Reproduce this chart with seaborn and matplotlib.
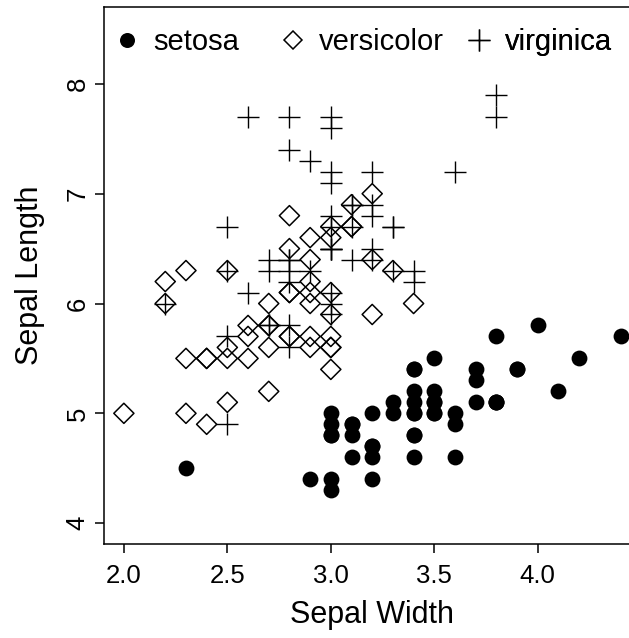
import numpy as np
import pandas as pd
import matplotlib
matplotlib.use("Agg")
import matplotlib.pyplot as plt
import seaborn as sns
from matplotlib.lines import Line2D

species = ["setosa", "versicolor", "virginica"]

setosa_length = [5.1, 4.9, 4.7, 4.6, 5.0, 5.4, 4.6, 5.0, 4.4, 4.9, 5.4, 4.8, 4.8, 4.3, 5.8, 5.7, 5.4, 5.1, 5.7, 5.1,
                 5.4, 5.1, 4.6, 5.1, 4.8, 5.0, 5.0, 5.2, 5.2, 4.7, 4.8, 5.4, 5.2, 5.5, 4.9, 5.0, 5.5, 4.9, 4.4, 5.1,
                 5.0, 4.5, 4.4, 5.0, 5.1, 4.8, 5.1, 4.6, 5.3, 5.0]
setosa_width = [3.5, 3.0, 3.2, 3.1, 3.6, 3.9, 3.4, 3.4, 2.9, 3.1, 3.7, 3.4, 3.0, 3.0, 4.0, 4.4, 3.9, 3.5, 3.8, 3.8,
                3.4, 3.7, 3.6, 3.3, 3.4, 3.0, 3.4, 3.5, 3.4, 3.2, 3.1, 3.4, 4.1, 4.2, 3.1, 3.2, 3.5, 3.6, 3.0, 3.4,
                3.5, 2.3, 3.2, 3.5, 3.8, 3.0, 3.8, 3.2, 3.7, 3.3]
versicolor_length = [7.0, 6.4, 6.9, 5.5, 6.5, 5.7, 6.3, 4.9, 6.6, 5.2, 5.0, 5.9, 6.0, 6.1, 5.6, 6.7, 5.6, 5.8, 6.2, 5.6,
                     5.9, 6.1, 6.3, 6.1, 6.4, 6.6, 6.8, 6.7, 6.0, 5.7, 5.5, 5.5, 5.8, 6.0, 5.4, 6.0, 6.7, 6.3, 5.6, 5.5,
                     5.5, 6.1, 5.8, 5.0, 5.6, 5.7, 5.7, 6.2, 5.1, 5.7]
versicolor_width = [3.2, 3.2, 3.1, 2.3, 2.8, 2.8, 3.3, 2.4, 2.9, 2.7, 2.0, 3.0, 2.2, 2.9, 2.9, 3.1, 3.0, 2.7, 2.2, 2.5,
                    3.2, 2.8, 2.5, 2.8, 2.9, 3.0, 2.8, 3.0, 2.9, 2.6, 2.4, 2.4, 2.7, 2.7, 3.0, 3.4, 3.1, 2.3, 3.0, 2.5,
                    2.6, 3.0, 2.6, 2.3, 2.7, 3.0, 2.9, 2.9, 2.5, 2.8]
virginica_length = [6.3, 5.8, 7.1, 6.3, 6.5, 7.6, 4.9, 7.3, 6.7, 7.2, 6.5, 6.4, 6.8, 5.7, 5.8, 6.4, 6.5, 7.7, 7.7, 6.0,
                    6.9, 5.6, 7.7, 6.3, 6.7, 7.2, 6.2, 6.1, 6.4, 7.2, 7.4, 7.9, 6.4, 6.3, 6.1, 7.7, 6.3, 6.4, 6.0, 6.9,
                    6.7, 6.9, 5.8, 6.8, 6.7, 6.7, 6.3, 6.5, 6.2, 5.9]
virginica_width = [3.3, 2.7, 3.0, 2.9, 3.0, 3.0, 2.5, 2.9, 2.5, 3.6, 3.2, 2.7, 3.0, 2.5, 2.8, 3.2, 3.0, 3.8, 2.6, 2.2,
                   3.2, 2.8, 2.8, 2.7, 3.3, 3.2, 2.8, 3.0, 2.8, 3.0, 2.8, 3.8, 2.8, 2.8, 2.6, 3.0, 3.4, 3.1, 3.0, 3.1,
                   3.1, 3.1, 2.7, 3.2, 3.3, 3.0, 2.5, 3.0, 3.4, 3.0]

x_ticks = [2.0, 2.5, 3.0, 3.5, 4.0]
x_tick_labels = ["2.0", "2.5", "3.0", "3.5", "4.0"]
y_ticks = [4, 5, 6, 7, 8]
y_tick_labels = ["4", "5", "6", "7", "8"]

df = pd.DataFrame({
    "Sepal Width": setosa_width + versicolor_width + virginica_width,
    "Sepal Length": setosa_length + versicolor_length + virginica_length,
    "Species": ["setosa"] * 50 + ["versicolor"] * 50 + ["virginica"] * 50,
})

sns.set_style("ticks")
plt.rcParams["font.family"] = ["Liberation Sans", "DejaVu Sans"]
plt.rcParams["text.color"] = "black"
plt.rcParams["axes.labelcolor"] = "black"

W, H = 629, 638
fig = plt.figure(figsize=(W / 100, H / 100), dpi=100)
left_px, right_px, top_px, bottom_px = 104, 640.4, 7, 544
ax = fig.add_axes([left_px / W, (H - bottom_px) / H, (right_px - left_px) / W, (bottom_px - top_px) / H])

sub = df[df["Species"] == "setosa"]
sns.scatterplot(data=sub, x="Sepal Width", y="Sepal Length", marker="o", s=130,
                color="black", edgecolor="black", linewidth=0, ax=ax, legend=False, zorder=3)
sub = df[df["Species"] == "versicolor"]
sns.scatterplot(data=sub, x="Sepal Width", y="Sepal Length", marker="D", s=105,
                facecolor="none", edgecolor="black", linewidth=1.1, ax=ax, legend=False, zorder=3)
sub = df[df["Species"] == "virginica"]
sns.scatterplot(data=sub, x="Sepal Width", y="Sepal Length", marker="+", s=240,
                color="black", linewidth=1.0, ax=ax, legend=False, zorder=3)

ax.set_xlim(1.904, 4.496)
ax.set_ylim(3.81, 8.70)
ax.set_xticks(x_ticks)
ax.set_xticklabels(x_tick_labels)
ax.set_yticks(y_ticks)
ax.set_yticklabels(y_tick_labels, rotation=90, va="center")
ax.tick_params(axis="both", direction="out", length=6.2, width=1.1, labelsize=18.5, colors="black")
ax.tick_params(axis="x", pad=8)
ax.tick_params(axis="y", pad=4)
for s in ax.spines.values():
    s.set_visible(True)
    s.set_linewidth(1.1)
    s.set_color("black")
ax.set_xlabel("Sepal Width", fontsize=22, labelpad=9, color="black")
ax.set_ylabel("Sepal Length", fontsize=22, labelpad=15, color="black")

handles = [
    Line2D([], [], linestyle="none", marker="o", markersize=10.8, color="black", markeredgewidth=0),
    Line2D([], [], linestyle="none", marker="D", markersize=9.4, markerfacecolor="none",
           markeredgecolor="black", markeredgewidth=1.1),
    Line2D([], [], linestyle="none", marker="+", markersize=15.8, color="black", markeredgewidth=1.0),
]
leg_fs = 21
fs_px = leg_fs * 100 / 72
hl = 0.8
htp = (25.5 - hl / 2 * fs_px) / fs_px
marker_centers_px = [127.5, 293, 479]
y_center_px = 42
for h, lab, mc in zip(handles, species, marker_centers_px):
    x_left = (mc - hl / 2 * fs_px - left_px) / (right_px - left_px)
    y_c = (bottom_px - y_center_px) / (bottom_px - top_px)
    leg = ax.legend([h], [lab], loc="center left", bbox_to_anchor=(x_left, y_c), frameon=False,
                    fontsize=leg_fs, handlelength=hl, handletextpad=htp, borderpad=0, borderaxespad=0)
    ax.add_artist(leg)

fig.savefig("out.png", dpi=100)
